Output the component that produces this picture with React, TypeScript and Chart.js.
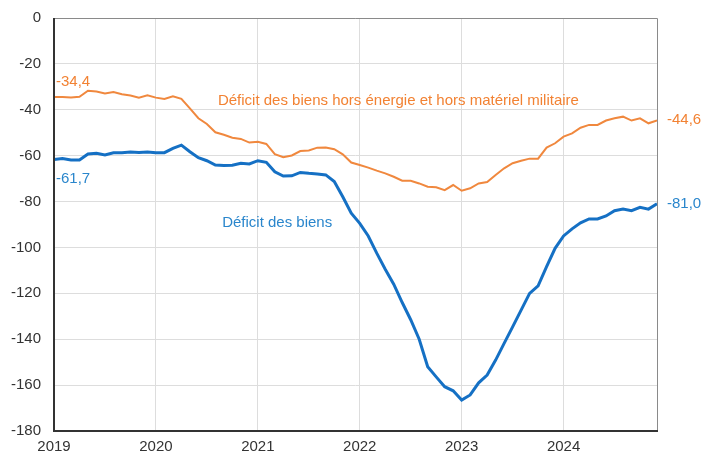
import React, { useEffect, useRef } from "react";
import { Chart, registerables } from "chart.js";

Chart.register(...registerables);

const yearLabels = ["2019", "2020", "2021", "2022", "2023", "2024"];

// Monthly values, Jan 2019 .. Dec 2024
const horsEnergie = [
  -34.4, -34.4, -34.6, -34.3, -31.7, -32.0, -32.9, -32.3, -33.2, -33.8, -34.7, -33.7,
  -34.7, -35.3, -34.1, -35.2, -39.4, -43.7, -46.2, -49.8, -50.9, -52.2, -52.7, -54.3,
  -53.9, -54.9, -59.3, -60.7, -59.9, -58.0, -57.7, -56.5, -56.4, -57.2, -59.4, -63.0,
  -64.1, -65.2, -66.5, -67.7, -69.2, -70.9, -70.9, -72.1, -73.5, -73.8, -75.0, -72.8,
  -75.3, -74.2, -72.1, -71.5, -68.4, -65.5, -63.3, -62.2, -61.3, -61.3, -56.5, -54.6,
  -51.7, -50.3, -47.8, -46.6, -46.6, -44.7, -43.7, -43.0, -44.7, -43.7, -45.9, -44.6,
];

const deficitBiens = [
  -61.7, -61.2, -61.9, -61.9, -59.3, -59.0, -59.7, -58.7, -58.7, -58.4, -58.6, -58.4,
  -58.7, -58.7, -56.8, -55.4, -58.3, -60.9, -62.2, -64.1, -64.3, -64.2, -63.3, -63.6,
  -62.2, -62.9, -67.0, -68.9, -68.8, -67.3, -67.7, -68.0, -68.4, -71.3, -77.9, -85.1,
  -89.5, -95.0, -102.5, -109.5, -116.0, -124.0, -131.5, -140.0, -152.0, -156.4, -160.7, -162.5,
  -166.5, -164.3, -159.0, -155.6, -149.1, -141.8, -134.6, -127.3, -120.0, -116.7, -108.4, -100.4,
  -95.0, -91.9, -89.3, -87.6, -87.6, -86.3, -84.0, -83.3, -84.0, -82.5, -83.3, -81.0,
];

const orangeName = "Déficit des biens hors énergie et hors matériel militaire";
const blueName = "Déficit des biens";
const startLabels = ["-34,4", "-61,7"];
const endLabels = ["-44,6", "-81,0"];

const ORANGE = "#F0883E";
const ORANGE_TXT = "#F28233";
const BLUE = "#1570C4";
const BLUE_TXT = "#2A86CC";
const FONT = "'Liberation Sans', Arial, sans-serif";
const FS = 15;

export default function App() {
  const ref = useRef<HTMLCanvasElement | null>(null);

  useEffect(() => {
    document.body.style.margin = "0";
    const canvas = ref.current;
    if (!canvas) return;

    const toPts = (arr: number[]) => arr.map((v, i) => ({ x: i, y: v }));

    const annot = {
      id: "annot",
      afterDatasetsDraw(chart: any) {
        const { ctx, chartArea, scales } = chart;
        const xs = scales.x;
        const ys = scales.y;
        ctx.save();
        // frame
        ctx.strokeStyle = "#8a8a8a";
        ctx.lineWidth = 1;
        ctx.beginPath();
        ctx.moveTo(chartArea.left, chartArea.top + 0.5);
        ctx.lineTo(chartArea.right + 0.5, chartArea.top + 0.5);
        ctx.lineTo(chartArea.right + 0.5, chartArea.bottom);
        ctx.stroke();
        ctx.strokeStyle = "#333333";
        ctx.lineWidth = 2;
        ctx.beginPath();
        ctx.moveTo(chartArea.left, chartArea.top);
        ctx.lineTo(chartArea.left, chartArea.bottom);
        ctx.lineTo(chartArea.right + 1, chartArea.bottom);
        ctx.stroke();

        ctx.font = `${FS}px ${FONT}`;
        ctx.textBaseline = "middle";
        ctx.textAlign = "left";
        const last = horsEnergie.length - 1;
        // start labels
        ctx.fillStyle = ORANGE_TXT;
        ctx.fillText(startLabels[0], xs.getPixelForValue(0) + 2, ys.getPixelForValue(horsEnergie[0]) - 15);
        ctx.fillStyle = BLUE_TXT;
        ctx.fillText(startLabels[1], xs.getPixelForValue(0) + 2, ys.getPixelForValue(deficitBiens[0]) + 19);
        // end labels
        ctx.fillStyle = ORANGE_TXT;
        ctx.fillText(endLabels[0], xs.getPixelForValue(last) + 10, ys.getPixelForValue(horsEnergie[last]));
        ctx.fillStyle = BLUE_TXT;
        ctx.fillText(endLabels[1], xs.getPixelForValue(last) + 10, ys.getPixelForValue(deficitBiens[last]));
        // series names
        ctx.fillStyle = ORANGE_TXT;
        ctx.fillText(orangeName, xs.getPixelForValue(19.3), ys.getPixelForValue(-35.9));
        ctx.fillStyle = BLUE_TXT;
        ctx.fillText(blueName, xs.getPixelForValue(19.8), ys.getPixelForValue(-89.3));
        ctx.restore();
      },
    };

    const chart = new Chart(canvas, {
      type: "line",
      data: {
        datasets: [
          {
            label: orangeName,
            data: toPts(horsEnergie),
            borderColor: ORANGE,
            borderWidth: 2,
            pointRadius: 0,
            tension: 0,
          },
          {
            label: blueName,
            data: toPts(deficitBiens),
            borderColor: BLUE,
            borderWidth: 3,
            pointRadius: 0,
            tension: 0,
          },
        ],
      },
      options: {
        animation: false,
        responsive: false,
        maintainAspectRatio: false,
        layout: { padding: { top: 18, right: 45, left: 0, bottom: 0 } },
        plugins: { legend: { display: false }, tooltip: { enabled: false } },
        scales: {
          x: {
            type: "linear",
            min: 0,
            max: 71,
            afterFit: (s: any) => {
              s.height = 21;
              s.paddingLeft = 0;
              s.paddingRight = 0;
            },
            afterBuildTicks: (s: any) => {
              s.ticks = yearLabels.map((_, i) => ({ value: i * 12 }));
            },
            ticks: {
              padding: 7,
              color: "#333333",
              font: { family: FONT, size: FS },
              maxRotation: 0,
              autoSkip: false,
              callback: (v: any) => yearLabels[Math.round(Number(v) / 12)] ?? "",
            },
            grid: { color: "#dddddd", lineWidth: 1, drawTicks: false },
            border: { display: false },
          },
          y: {
            min: -180,
            max: 0,
            afterFit: (s: any) => {
              s.width = 54;
              s.paddingTop = 0;
              s.paddingBottom = 0;
            },
            ticks: {
              stepSize: 20,
              padding: 13,
              color: "#333333",
              font: { family: FONT, size: FS },
              callback: (v: any) => String(v),
            },
            grid: { color: "#dddddd", lineWidth: 1, drawTicks: false },
            border: { display: false },
          },
        },
      },
      plugins: [annot],
    });
    return () => chart.destroy();
  }, []);

  return (
    <div style={{ width: 702, height: 452, background: "#fff" }}>
      <canvas ref={ref} width={702} height={452} style={{ display: "block" }} />
    </div>
  );
}
